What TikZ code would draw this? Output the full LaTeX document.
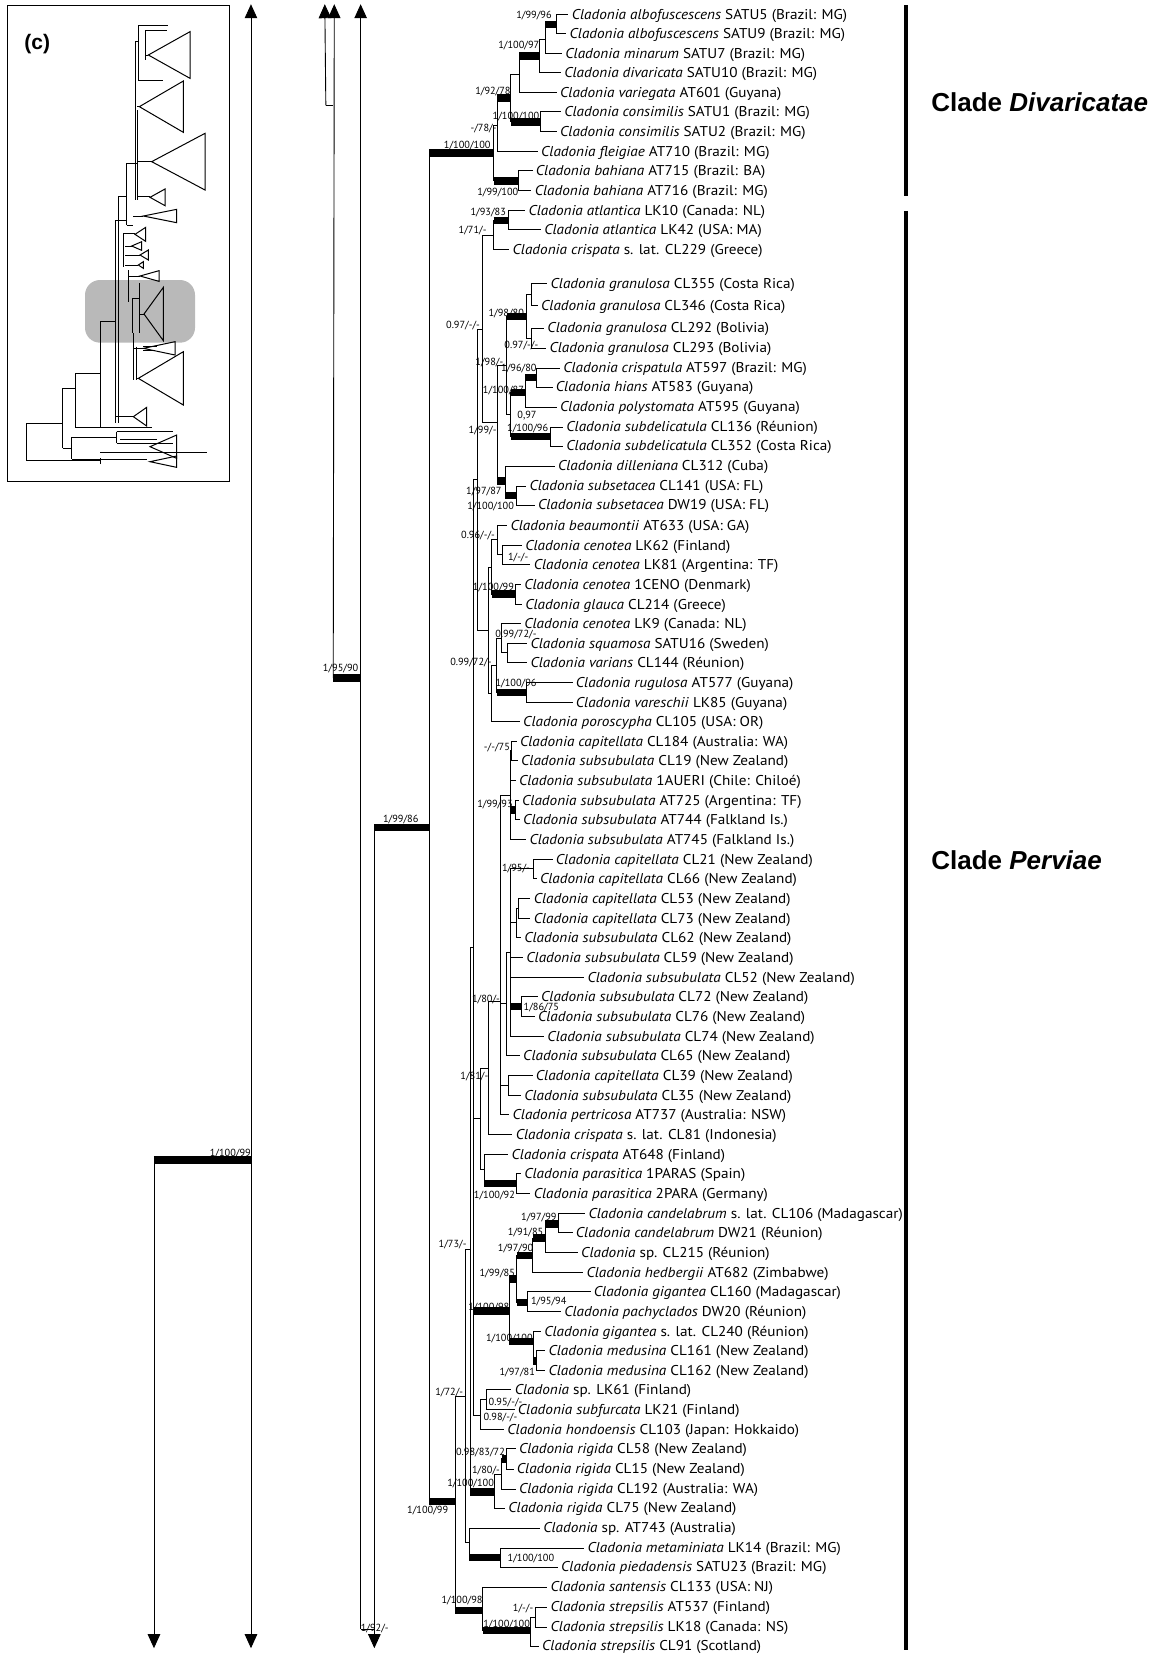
\documentclass[tikz,border=0pt]{standalone}
\usepackage{fontspec}
\setmainfont{PT Sans}[FakeStretch=1.07]
\newfontfamily\supfont{PT Sans}
\newfontfamily\boldsans{Liberation Sans}
\usetikzlibrary{arrows.meta}
\tikzset{
 br/.style={line width=0.9pt},
 tb/.style={line width=7.5pt},
 lab/.style={inner sep=0pt, font=\fontsize{14.2}{16}\selectfont},
 sup/.style={inner sep=0pt, font=\supfont\fontsize{10.3}{12}\selectfont, anchor=base east},
 supl/.style={inner sep=0pt, font=\supfont\fontsize{10.3}{12}\selectfont, anchor=base west},
 arrdn/.style={line width=0.9pt, -{Triangle[width=12.5pt,length=14pt]}},
 arrup/.style={line width=0.9pt, -{Triangle[width=12.5pt,length=14pt]}},
 arrud/.style={line width=0.9pt, {Triangle[width=12.5pt,length=14pt]}-{Triangle[width=12.5pt,length=14pt]}},
 cladebar/.style={line width=4.5pt},
 cladelab/.style={inner sep=0pt, anchor=base west, font=\boldsans\bfseries\fontsize{26}{30}\selectfont},
 inset/.style={line width=1pt},
}
\newcommand{\inode}[3]{\coordinate (#1) at (#2,#3);}
\newcommand{\edge}[2]{\draw[br] (#1) |- (#2);}
\newcommand{\tedge}[2]{\draw[br] (#1) |- (#2); \draw[tb] (#1 |- #2) -- (#2);}
\newcommand{\leaf}[5]{\coordinate (#1) at ({#4-3},#3); \draw[br] (#2) |- (#1); \node[lab,anchor=base west] (#1t) at (#4,{#3+4.6}) {#5};}
\newcommand{\cl}[1]{\textit{Cladonia #1}}
\begin{document}
\begin{tikzpicture}[x=1.0545pt,y=-1.0545pt]
\useasboundingbox (0,0) rectangle (1101,1568.5);
% ---------- inset ----------
\draw[line width=0.9pt] (7,5) rectangle (217.5,456.5) ;
\node[inner sep=0pt, anchor=base west, font=\boldsans\bfseries\fontsize{21}{24}\selectfont] (clab) at (23,46.5) {(c)};
\begin{scope}[scale=0.31611]
\fill[gray!55, rounded corners=15pt] (255,840) rectangle (585,1028);
\draw[inset] (80,1270)--(80,1382) (80,1270)--(188,1270) (80,1382)--(300,1382);
\draw[inset] (188,1165)--(188,1345) (188,1165)--(225,1165) (188,1345)--(215,1345);
\draw[inset] (225,1120)--(225,1283) (225,1120)--(300,1120) (225,1283)--(455,1283);
\draw[inset] (215,1312)--(215,1378) (215,1312)--(350,1312) (215,1378)--(300,1378);
\draw[inset] (350,1295)--(350,1330) (350,1295)--(520,1295) (350,1330)--(520,1330) (360,1318)--(470,1318);
\draw[inset] (300,1358)--(620,1358) (300,1378)--(440,1378) (300,1392)--(300,1375);
\draw[inset] (300,965)--(300,1283) (300,965)--(345,965);
\draw[inset] (345,660)--(345,1270) (345,660)--(380,660);
\draw[inset] (355,590)--(355,1268) (355,590)--(380,590);
\draw[inset] (380,490)--(380,675) (380,490)--(410,490) (380,675)--(400,675);
\draw[inset] (405,125)--(405,600) (412,330)--(412,600) (405,125)--(415,125);
\draw[inset] (415,75)--(415,240) (415,75)--(505,75) (435,90)--(435,180) (435,90)--(500,90) (415,240)--(490,240) (435,165)--(445,165);
\draw[inset] (412,320)--(418,320) (412,485)--(455,485) (412,590)--(450,590) (400,648)--(430,648);
\draw[inset] (370,700)--(370,800) (370,700)--(405,700) (375,738)--(395,738) (375,765)--(420,765) (375,795)--(415,795);
\draw[inset] (385,810)--(385,905) (385,828)--(420,828) (398,895)--(398,1000) (398,895)--(418,895) (418,850)--(418,1000) (418,942)--(432,942);
\draw[inset] (400,1000)--(400,1140) (400,1045)--(430,1045) (410,1135)--(415,1135) (410,1040)--(410,1140) (345,1250)--(400,1250);
\draw[inset] (430,1040)--(470,1040) (430,1050)--(460,1050);
\foreach \a/\b/\c/\d in {445/165/570/95, 418/320/550/243, 455/485/615/400, 450/592/495/567, 430/648/530/628, 405/703/437/682, 395/738/425/725, 420/765/445/750, 415/795/430/785, 420/828/477/812, 432/942/490/862, 430/1045/525/1025, 415/1135/550/1055, 400/1250/440/1222, 450/1340/530/1305, 450/1385/530/1368}
 {\draw[inset] (\a,\b) -- (\c,\d) -- (\c,{2*\b-\d}) -- cycle;}
\end{scope}
% ---------- left backbone ----------
\inode{bA}{146}{1100}
\inode{bB}{238}{1100}
\inode{bC}{309}{100}
\inode{bD}{316}{100}
\inode{bE}{316}{643}
\inode{bF}{342}{643}
\inode{bG}{342}{1545}
\inode{bH}{355}{1545}
\coordinate (eA) at (146,1563);
\coordinate (eB1) at (238,4);
\coordinate (eB2) at (238,1563);
\coordinate (eC) at (308,4);
\coordinate (eD) at (317,4);
\coordinate (eF) at (342,4);
\coordinate (eH) at (355,1563);
\draw[arrdn] (bA) -- (eA);
\draw[tb] (bA) -- (bB);
\draw[arrud] (eB2) -- (eB1);
\draw[arrup] (bC) -- (eC);
\draw[br] (bC) -- (bD);
\draw[arrup] (bE) -- (eD);
\draw[tb] (bE) -- (bF);
\draw[arrup] (bG) -- (eF);
\draw[br] (bG) -- (bH);
\draw[arrdn] (bH |- 0,784.5) -- (eH);
\node[sup] (s01) at (238,1097) {1/100/99};
\node[sup] (s02) at (340,637) {1/95/90};
\node[sup] (s03) at (397,780) {1/99/86};
\node[supl] (s04) at (342,1547.5) {1/92/-};
% ---------- internal nodes ----------
\inode{nA}{528}{23}
\inode{nB}{517}{37}
\inode{nC}{511.6}{53}
\inode{nD}{492.6}{70.5}
\inode{nEc}{512.2}{115.5}
\inode{nE}{484.4}{93}
\inode{nF}{471.7}{118.5}
\inode{nBh}{491.7}{171.5}
\inode{nG}{468}{145}
\inode{nAt}{482.2}{209}
\inode{nJc}{468}{223}
\inode{nGa}{504.3}{279.5}
\inode{nGc}{504.3}{320.5}
\inode{nGb}{498.9}{300}
\inode{nHa}{509}{358}
\inode{nHb}{498}{372}
\inode{nHd}{521.7}{414}
\inode{nHc}{484.4}{393}
\inode{nGd}{480.6}{346.5}
\inode{nSa}{490.1}{470}
\inode{nSb}{479}{456}
\inode{nI}{471.7}{401}
\inode{nJ}{457.8}{312}
\inode{nLa}{476.8}{526}
\inode{nLb}{471.7}{512}
\inode{nLc}{488.5}{563.5}
\inode{nLd}{466.3}{538}
\inode{nMa}{481.2}{619}
\inode{nMb}{475.8}{605}
\inode{nMc}{498.9}{656.5}
\inode{nMd}{471.1}{631}
\inode{nMe}{466.3}{657.5}
\inode{nLe}{463.2}{598}
\inode{nK}{452.7}{455}
\inode{nCa}{485.3}{712}
\inode{nCc}{488.5}{768}
\inode{nCb}{483.7}{754}
\inode{nCd}{505.9}{824}
\inode{nCf}{492}{861.5}
\inode{nCg}{489.4}{875}
\inode{nCh}{484.4}{891.5}
\inode{nCi}{494.8}{954.5}
\inode{nCj}{483.7}{903.5}
\inode{nCk}{480.6}{952}
\inode{nCm}{482.2}{1029.5}
\inode{nCn}{474.2}{950}
\inode{nN}{463.2}{1013}
\inode{nPa}{489.4}{1122.5}
\inode{nXa}{459.1}{1109}
\inode{nXb}{455.9}{1061}
\inode{nUa}{529.6}{1160.5}
\inode{nUb}{517}{1174}
\inode{nUc}{505.3}{1190.5}
\inode{nUe}{500.2}{1235}
\inode{nUd}{490.1}{1213}
\inode{nUh}{509}{1290.5}
\inode{nUg}{505.9}{1272}
\inode{nUf}{483.1}{1243}
\inode{nTa}{461}{1327.5}
\inode{nTb}{455.3}{1342}
\inode{nV}{449}{898.5}
\inode{nRc}{480}{1383.5}
\inode{nRb}{475.8}{1398}
\inode{nRa}{468.6}{1414.7}
\inode{nW}{445.8}{1184.5}
\inode{nMP}{474.2}{1477}
\inode{nQ}{445.1}{1463}
\inode{nPi}{441}{1324}
\inode{nSTb}{507.5}{1533.5}
\inode{nSTa}{502.7}{1546}
\inode{nSTR}{457.8}{1527}
\inode{nPo}{431.5}{1424}
\inode{nRT}{407}{784.5}
\inode{nRTb}{355}{784.5}
% ---------- edges ----------
\tedge{nB}{nA}
\edge{nC}{nB}
\tedge{nD}{nC}
\edge{nE}{nD}
\tedge{nE}{nEc}
\tedge{nF}{nE}
\edge{nG}{nF}
\tedge{nG}{nBh}
\tedge{nRT}{nG}
\tedge{nJc}{nAt}
\edge{nJ}{nJc}
\edge{nGb}{nGa}
\edge{nGb}{nGc}
\tedge{nGd}{nGb}
\tedge{nHb}{nHa}
\tedge{nHc}{nHb}
\tedge{nHc}{nHd}
\edge{nGd}{nHc}
\edge{nI}{nGd}
\tedge{nSb}{nSa}
\tedge{nI}{nSb}
\edge{nJ}{nI}
\edge{nK}{nJ}
\edge{nLb}{nLa}
\edge{nLd}{nLb}
\tedge{nLd}{nLc}
\edge{nLe}{nLd}
\edge{nMb}{nMa}
\edge{nMd}{nMb}
\tedge{nMd}{nMc}
\edge{nMe}{nMd}
\edge{nLe}{nMe}
\edge{nK}{nLe}
\edge{nV}{nK}
\edge{nCb}{nCa}
\tedge{nCb}{nCc}
\edge{nCn}{nCb}
\edge{nCj}{nCd}
\edge{nCg}{nCf}
\edge{nCh}{nCg}
\edge{nCj}{nCh}
\tedge{nCj}{nCi}
\edge{nCk}{nCj}
\edge{nCn}{nCk}
\edge{nCn}{nCm}
\edge{nN}{nCn}
\edge{nXb}{nN}
\tedge{nXa}{nPa}
\edge{nXb}{nXa}
\edge{nV}{nXb}
\tedge{nUb}{nUa}
\tedge{nUc}{nUb}
\tedge{nUd}{nUc}
\tedge{nUd}{nUe}
\tedge{nUf}{nUd}
\tedge{nUg}{nUh}
\tedge{nUf}{nUg}
\tedge{nV}{nUf}
\edge{nTb}{nTa}
\edge{nV}{nTb}
\edge{nW}{nV}
\tedge{nRb}{nRc}
\edge{nRa}{nRb}
\tedge{nW}{nRa}
\edge{nPi}{nW}
\tedge{nQ}{nMP}
\edge{nPi}{nQ}
\edge{nPo}{nPi}
\edge{nSTa}{nSTb}
\tedge{nSTR}{nSTa}
\tedge{nPo}{nSTR}
\tedge{nRT}{nPo}
\tedge{nRTb}{nRT}
% ---------- leaves ----------
\leaf{l1}{nA}{14}{542}{\cl{albofuscescens} SATU5 (Brazil: MG)}
\leaf{l2}{nA}{32}{540}{\cl{albofuscescens} SATU9 (Brazil: MG)}
\leaf{l3}{nB}{51}{536}{\cl{minarum} SATU7 (Brazil: MG)}
\leaf{l4}{nC}{69}{535}{\cl{divaricata} SATU10 (Brazil: MG)}
\leaf{l5}{nD}{88}{531}{\cl{variegata} AT601 (Guyana)}
\leaf{l6}{nEc}{106}{535}{\cl{consimilis} SATU1 (Brazil: MG)}
\leaf{l7}{nEc}{125}{531}{\cl{consimilis} SATU2 (Brazil: MG)}
\leaf{l8}{nF}{144}{513}{\cl{fleigiae} AT710 (Brazil: MG)}
\leaf{l9}{nBh}{162}{508}{\cl{bahiana} AT715 (Brazil: BA)}
\leaf{l10}{nBh}{181}{507}{\cl{bahiana} AT716 (Brazil: MG)}
\leaf{l11}{nAt}{200}{501}{\cl{atlantica} LK10 (Canada: NL)}
\leaf{l12}{nAt}{218}{516}{\cl{atlantica} LK42 (USA: MA)}
\leaf{l13}{nJc}{237}{486}{\cl{crispata} s. lat. CL229 (Greece)}
\leaf{l14}{nGa}{269}{522}{\cl{granulosa} CL355 (Costa Rica)}
\leaf{l15}{nGa}{290}{513}{\cl{granulosa} CL346 (Costa Rica)}
\leaf{l16}{nGc}{311}{519}{\cl{granulosa} CL292 (Bolivia)}
\leaf{l17}{nGc}{330}{521}{\cl{granulosa} CL293 (Bolivia)}
\leaf{l18}{nHa}{349}{534}{\cl{crispatula} AT597 (Brazil: MG)}
\leaf{l19}{nHa}{367}{527}{\cl{hians} AT583 (Guyana)}
\leaf{l20}{nHb}{386}{531}{\cl{polystomata} AT595 (Guyana)}
\leaf{l21}{nHd}{405}{537}{\cl{subdelicatula} CL136 (Réunion)}
\leaf{l22}{nHd}{423}{537}{\cl{subdelicatula} CL352 (Costa Rica)}
\leaf{l23}{nSb}{442}{529}{\cl{dilleniana} CL312 (Cuba)}
\leaf{l24}{nSa}{461}{502}{\cl{subsetacea} CL141 (USA: FL)}
\leaf{l25}{nSa}{479}{510}{\cl{subsetacea} DW19 (USA: FL)}
\leaf{l26}{nLb}{498}{484}{\cl{beaumontii} AT633 (USA: GA)}
\leaf{l27}{nLa}{517}{498}{\cl{cenotea} LK62 (Finland)}
\leaf{l28}{nLa}{535}{506}{\cl{cenotea} LK81 (Argentina: TF)}
\leaf{l29}{nLc}{554}{497}{\cl{cenotea} 1CENO (Denmark)}
\leaf{l30}{nLc}{573}{498}{\cl{glauca} CL214 (Greece)}
\leaf{l31}{nMb}{591}{497}{\cl{cenotea} LK9 (Canada: NL)}
\leaf{l32}{nMa}{610}{503}{\cl{squamosa} SATU16 (Sweden)}
\leaf{l33}{nMa}{628}{503}{\cl{varians} CL144 (Réunion)}
\leaf{l34}{nMc}{647}{546}{\cl{rugulosa} AT577 (Guyana)}
\leaf{l35}{nMc}{666}{546}{\cl{vareschii} LK85 (Guyana)}
\leaf{l36}{nMe}{684}{496}{\cl{poroscypha} CL105 (USA: OR)}
\leaf{l37}{nCa}{703}{493}{\cl{capitellata} CL184 (Australia: WA)}
\leaf{l38}{nCa}{721}{494}{\cl{subsubulata} CL19 (New Zealand)}
\leaf{l39}{nCb}{740}{492}{\cl{subsubulata} 1AUERI (Chile: Chiloé)}
\leaf{l40}{nCc}{759}{495}{\cl{subsubulata} AT725 (Argentina: TF)}
\leaf{l41}{nCc}{777}{496}{\cl{subsubulata} AT744 (Falkland Is.)}
\leaf{l42}{nCb}{796}{502}{\cl{subsubulata} AT745 (Falkland Is.)}
\leaf{l43}{nCd}{815}{527}{\cl{capitellata} CL21 (New Zealand)}
\leaf{l44}{nCd}{833}{512}{\cl{capitellata} CL66 (New Zealand)}
\leaf{l45}{nCf}{852}{506}{\cl{capitellata} CL53 (New Zealand)}
\leaf{l46}{nCf}{871}{506}{\cl{capitellata} CL73 (New Zealand)}
\leaf{l47}{nCg}{889}{497}{\cl{subsubulata} CL62 (New Zealand)}
\leaf{l48}{nCh}{908}{499}{\cl{subsubulata} CL59 (New Zealand)}
\leaf{l49}{nCj}{927}{557}{\cl{subsubulata} CL52 (New Zealand)}
\leaf{l50}{nCi}{945}{513}{\cl{subsubulata} CL72 (New Zealand)}
\leaf{l51}{nCi}{964}{510}{\cl{subsubulata} CL76 (New Zealand)}
\leaf{l52}{nCj}{983}{519}{\cl{subsubulata} CL74 (New Zealand)}
\leaf{l53}{nCk}{1001}{496}{\cl{subsubulata} CL65 (New Zealand)}
\leaf{l54}{nCm}{1020}{508}{\cl{capitellata} CL39 (New Zealand)}
\leaf{l55}{nCm}{1039}{497}{\cl{subsubulata} CL35 (New Zealand)}
\leaf{l56}{nCn}{1057}{486}{\cl{pertricosa} AT737 (Australia: NSW)}
\leaf{l57}{nN}{1076}{489}{\cl{crispata} s. lat. CL81 (Indonesia)}
\leaf{l58}{nXa}{1095}{485}{\cl{crispata} AT648 (Finland)}
\leaf{l59}{nPa}{1113}{497}{\cl{parasitica} 1PARAS (Spain)}
\leaf{l60}{nPa}{1132}{506}{\cl{parasitica} 2PARA (Germany)}
\leaf{l61}{nUa}{1151}{558}{\cl{candelabrum} s. lat. CL106 (Madagascar)}
\leaf{l62}{nUa}{1169}{546}{\cl{candelabrum} DW21 (Réunion)}
\leaf{l63}{nUb}{1188}{551}{\textit{Cladonia} sp. CL215 (Réunion)}
\leaf{l64}{nUc}{1207}{556}{\cl{hedbergii} AT682 (Zimbabwe)}
\leaf{l65}{nUe}{1225}{563}{\cl{gigantea} CL160 (Madagascar)}
\leaf{l66}{nUe}{1244}{535}{\cl{pachyclados} DW20 (Réunion)}
\leaf{l67}{nUg}{1263}{516}{\cl{gigantea} s. lat. CL240 (Réunion)}
\leaf{l68}{nUh}{1281}{520}{\cl{medusina} CL161 (New Zealand)}
\leaf{l69}{nUh}{1300}{520}{\cl{medusina} CL162 (New Zealand)}
\leaf{l70}{nTa}{1318}{488}{\textit{Cladonia} sp. LK61 (Finland)}
\leaf{l71}{nTa}{1337}{491}{\cl{subfurcata} LK21 (Finland)}
\leaf{l72}{nTb}{1356}{481}{\cl{hondoensis} CL103 (Japan: Hokkaido)}
\leaf{l73}{nRc}{1374}{492}{\cl{rigida} CL58 (New Zealand)}
\leaf{l74}{nRc}{1393}{490}{\cl{rigida} CL15 (New Zealand)}
\leaf{l75}{nRb}{1412}{492}{\cl{rigida} CL192 (Australia: WA)}
\leaf{l76}{nRa}{1430}{482}{\cl{rigida} CL75 (New Zealand)}
\leaf{l77}{nQ}{1449}{515}{\textit{Cladonia} sp. AT743 (Australia)}
\leaf{l78}{nMP}{1468}{557}{\cl{metaminiata} LK14 (Brazil: MG)}
\leaf{l79}{nMP}{1486}{532}{\cl{piedadensis} SATU23 (Brazil: MG)}
\leaf{l80}{nSTR}{1505}{522}{\cl{santensis} CL133 (USA: NJ)}
\leaf{l81}{nSTb}{1524}{522}{\cl{strepsilis} AT537 (Finland)}
\leaf{l82}{nSTb}{1543}{522}{\cl{strepsilis} LK18 (Canada: NS)}
\leaf{l83}{nSTa}{1561}{514}{\cl{strepsilis} CL91 (Scotland)}
% ---------- support values ----------
\node[sup] (t1) at (523.3,17.4) {1/99/96};
\node[sup] (t2) at (511.6,45.9) {1/100/97};
\node[sup] (t3) at (484.4,89.2) {1/92/78};
\node[sup] (t4) at (511.6,113.3) {1/100/100};
\node[sup] (t5) at (471,125) {-/78/-};
\node[sup] (t6) at (465.4,140.8) {1/100/100};
\node[sup] (t7) at (491.7,185) {1/99/100};
\node[sup] (t8) at (480,204.6) {1/93/83};
\node[sup] (t9) at (461.6,221.4) {1/71/-};
\node[sup] (t10) at (497,300.3) {1/98/80};
\node[sup] (t11) at (455.3,311.4) {0.97/-/-};
\node[sup] (t12) at (510.6,330.4) {0.97/-/-};
\node[sup] (t13) at (477.4,346.2) {1/98/-};
\node[sup] (t14) at (509,352.5) {1/96/80};
\node[sup] (t15) at (497,373.1) {1/100/87};
\node[sup] (t16) at (509,396.8) {0,97};
\node[sup] (t17) at (520,409.5) {1/100/96};
\node[sup] (t18) at (471,411.1) {1/99/-};
\node[sup] (t19) at (475.8,469.4) {1/97/87};
\node[sup] (t20) at (487.5,483) {1/100/100};
\node[sup] (t21) at (469.5,510.6) {0.96/-/-};
\node[sup] (t22) at (501.2,531.1) {1/-/-};
\node[sup] (t23) at (487.5,560.2) {1/100/99};
\node[sup] (t24) at (509,604.4) {0.99/72/-};
\node[sup] (t25) at (466.3,630.7) {0.99/72/-};
\node[sup] (t26) at (509,650.6) {1/100/96};
\node[sup] (t27) at (483.7,711.4) {-/-/75};
\node[sup] (t28) at (486.3,765.6) {1/99/93};
\node[sup] (t29) at (502.7,826.7) {1/95/-};
\node[sup] (t30) at (474.2,951) {1/80/-};
\node[supl] (t31) at (496.4,958) {1/86/75};
\node[sup] (t32) at (463.2,1023.5) {1/81/-};
\node[sup] (t33) at (488.5,1136.5) {1/100/92};
\node[sup] (t34) at (528,1157) {1/97/99};
\node[sup] (t35) at (515.4,1171.2) {1/91/85};
\node[sup] (t36) at (442.6,1183.3) {1/73/-};
\node[sup] (t37) at (505.9,1187) {1/97/90};
\node[sup] (t38) at (488.5,1210.2) {1/99/85};
\node[supl] (t39) at (503.4,1236.7) {1/95/94};
\node[sup] (t40) at (483.1,1242.4) {1/100/98};
\node[sup] (t41) at (505.3,1272.5) {1/100/100};
\node[sup] (t42) at (507.5,1304) {1/97/81};
\node[sup] (t43) at (439.4,1322.9) {1/72/-};
\node[supl] (t44) at (463.2,1332.4) {0.95/-/-};
\node[supl] (t45) at (458.4,1347.3) {0.98/-/-};
\node[sup] (t46) at (479,1380) {0.98/83/72};
\node[sup] (t47) at (474.2,1397.3) {1/80/-};
\node[sup] (t48) at (468.6,1410) {1/100/100};
\node[sup] (t49) at (425.2,1435.2) {1/100/99};
\node[supl] (t50) at (481.2,1481) {1/100/100};
\node[sup] (t51) at (457.8,1520.6) {1/100/98};
\node[sup] (t52) at (505.9,1528.5) {1/-/-};
\node[sup] (t53) at (502.7,1543.4) {1/100/100};
% ---------- clades ----------
\coordinate (cd1) at (859,5);
\coordinate (cd2) at (859,186);
\coordinate (cp1) at (859,200);
\coordinate (cp2) at (859,1565);
\draw[cladebar] (cd1) -- (cd2);
\draw[cladebar] (cp1) -- (cp2);
\node[cladelab] (cdl) at (883,106) {Clade \textit{Divaricatae}};
\node[cladelab] (cpl) at (883,825) {Clade \textit{Perviae}};
\end{tikzpicture}
\end{document}
